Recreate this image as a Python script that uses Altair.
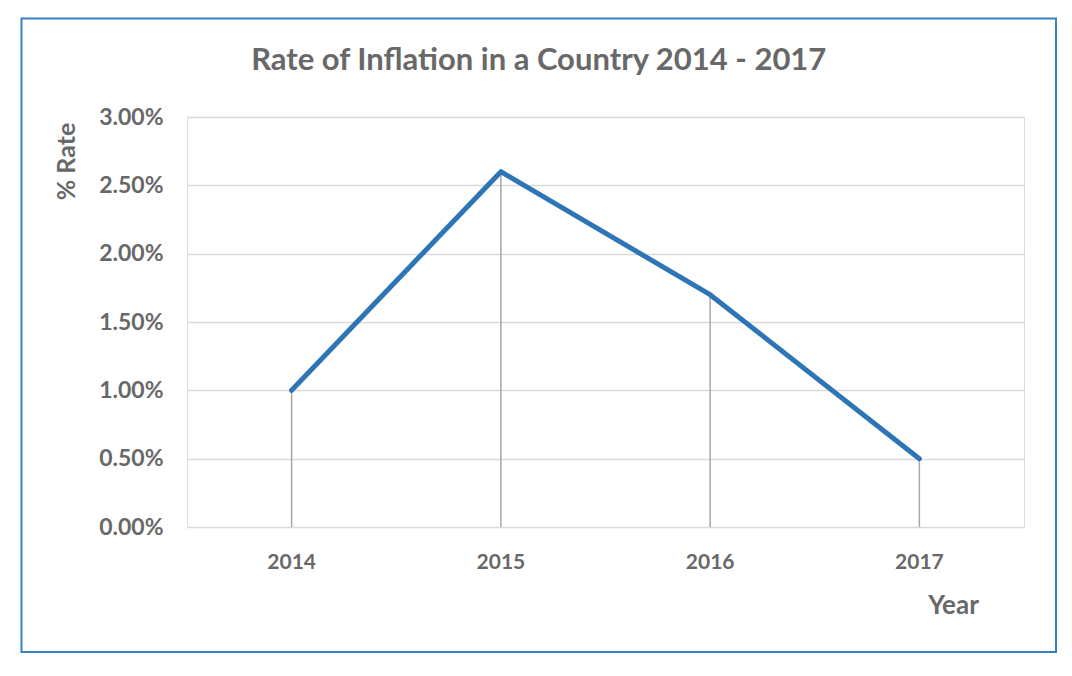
import altair as alt
import pandas as pd

years = ["2014", "2015", "2016", "2017"]
rates = [0.010, 0.026, 0.017, 0.005]

df = pd.DataFrame({"Year": years, "Rate": rates})

FONT = "Lato"
GRAY = "#686868"

x = alt.X("Year:N", sort=years,
          scale=alt.Scale(paddingInner=0, paddingOuter=0),
          axis=alt.Axis(title="Year", labelAngle=0, ticks=False, domain=False,
                        grid=False, labelFont=FONT, labelFontSize=21,
                        labelFontWeight="bold", labelColor=GRAY, labelPadding=24,
                        titleFont=FONT, titleFontSize=26, titleFontWeight="bold",
                        titleColor=GRAY, titleX=766, titleY=78,
                        titleAlign="center", titleBaseline="middle"))
y = alt.Y("Rate:Q", scale=alt.Scale(domain=[0, 0.03]),
          axis=alt.Axis(title="% Rate", format=".2%", values=[0, 0.005, 0.01, 0.015, 0.02, 0.025, 0.03],
                        ticks=False, domain=False, gridColor="#d9d9d9", gridWidth=1.5,
                        labelFont=FONT, labelFontSize=23, labelFontWeight="bold",
                        labelColor=GRAY, labelPadding=24,
                        titleFont=FONT, titleFontSize=25, titleFontWeight="bold",
                        titleColor=GRAY, titleAngle=-90, titleX=-121, titleY=44,
                        titleAlign="center", titleBaseline="middle"))

base = alt.Chart(df)

drops = base.mark_rule(color="#a6a6a6", strokeWidth=1.5).encode(
    x=x, y=y, y2=alt.datum(0))
line = base.mark_line(color="#2e75b6", strokeWidth=5, strokeCap="round", strokeJoin="round").encode(
    x=x, y=y)

border = alt.Chart(pd.DataFrame({"k": [0]})).mark_rect(
    fill=None, stroke="#3a7fc1", strokeWidth=2).encode(
    x=alt.value(-165.5), x2=alt.value(869), y=alt.value(-98.5), y2=alt.value(535))

chart = alt.layer(border, drops, line).properties(
    width=837, height=410,
    title=alt.TitleParams("Rate of Inflation in a Country 2014 - 2017",
                          font=FONT, fontSize=31, fontWeight="bold", color=GRAY,
                          anchor="middle", frame="bounds", baseline="alphabetic",
                          offset=-83),
    autosize=alt.AutoSizeParams(type="none"),
    padding={"left": 179, "top": 109, "right": 40, "bottom": 140},
).configure_view(stroke=None).configure(background="white")

chart.save("out.html", embed_options={"renderer": "svg", "actions": False})
